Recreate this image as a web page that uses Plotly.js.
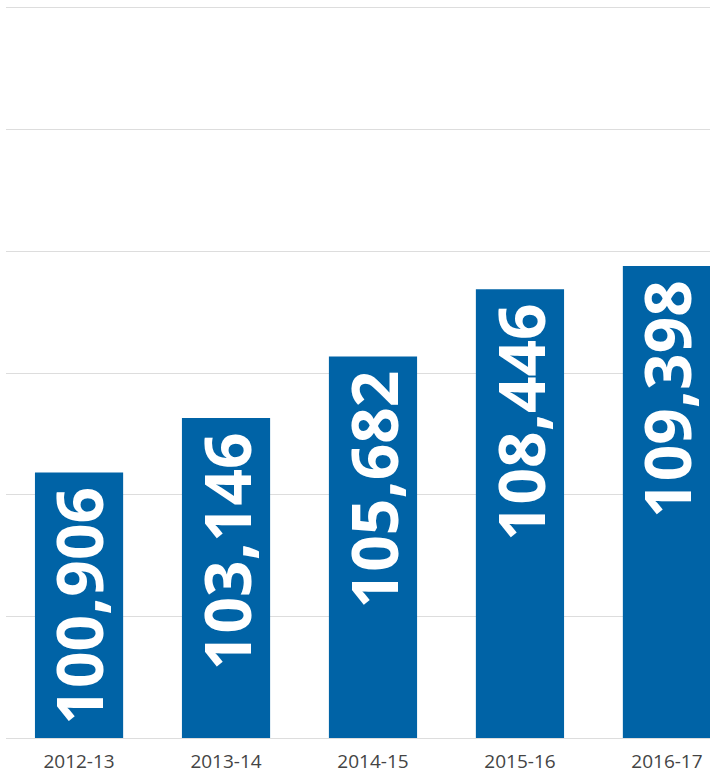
<!DOCTYPE html>
<html>
<head>
<meta charset="utf-8">
<script src="https://cdn.plot.ly/plotly-3.0.1.min.js"></script>
<style>html,body{margin:0;padding:0;background:#fff;}#chart{width:710px;height:775px;}</style>
</head>
<body>
<div id="chart"></div>
<script>
const years = ["2012-13", "2013-14", "2014-15", "2015-16", "2016-17"];
const values = [100906, 103146, 105682, 108446, 109398];
const labels = ["100,906", "103,146", "105,682", "108,446", "109,398"];

const trace = {
  type: "bar",
  x: years,
  y: values,
  marker: {color: "#0063A6"},
  hoverinfo: "none"
};

const annotations = years.map((yr, i) => ({
  x: yr,
  y: values[i],
  xref: "x",
  yref: "y",
  text: labels[i],
  showarrow: false,
  textangle: -90,
  xanchor: "center",
  yanchor: "top",
  yshift: -12,
  font: {family: "Open Sans", size: 64, color: "#ffffff", weight: 700}
}));

const layout = {
  width: 710,
  height: 775,
  margin: {l: 6, r: 0, t: 8, b: 37},
  paper_bgcolor: "#ffffff",
  plot_bgcolor: "#ffffff",
  bargap: 0.4,
  showlegend: false,
  annotations: annotations,
  xaxis: {
    range: [-0.497, 4.293],
    showgrid: false,
    zeroline: false,
    showline: true,
    mirror: true,
    linecolor: "#dddddd",
    linewidth: 1,
    ticks: "",
    ticklabelstandoff: 6,
    tickfont: {family: "Open Sans", size: 19, color: "#444444"},
    fixedrange: true
  },
  yaxis: {
    range: [90000, 120000],
    dtick: 5000,
    tick0: 90000,
    tickmode: "linear",
    showgrid: true,
    gridcolor: "#dddddd",
    gridwidth: 1,
    zeroline: false,
    showline: false,
    showticklabels: false,
    ticks: "",
    fixedrange: true
  }
};

Plotly.newPlot("chart", [trace], layout, {displayModeBar: false, staticPlot: true});
</script>
</body>
</html>
